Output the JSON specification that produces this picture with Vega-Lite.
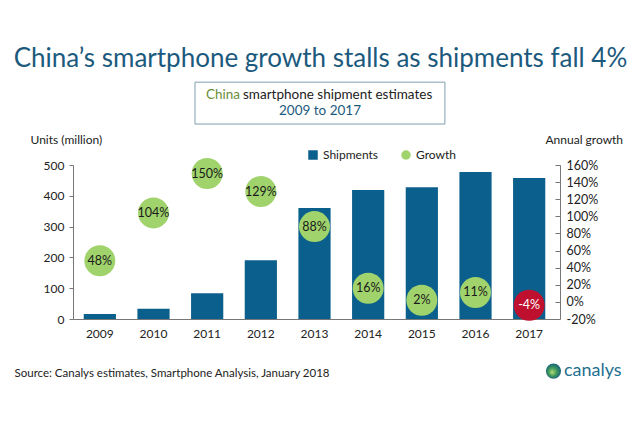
{
  "$schema": "https://vega.github.io/schema/vega-lite/v6.json",
  "width": 483,
  "height": 154,
  "autosize": "none",
  "padding": {"left": 73, "top": 165, "right": 84, "bottom": 108},
  "background": "white",
  "config": {"font": "Lato", "view": {"stroke": null}},
  "title": {"text": "China’s smartphone growth stalls as shipments fall 4%", "fontSize": 26, "font": "Lato", "fontWeight": "normal", "color": "#1c5a7d", "anchor": "middle", "dx": 6, "offset": 10},
  "data": {"values": [
    {"year": "2009", "units": 16, "growth": 48, "label": "48%"},
    {"year": "2010", "units": 33, "growth": 104, "label": "104%"},
    {"year": "2011", "units": 84, "growth": 150, "label": "150%"},
    {"year": "2012", "units": 191, "growth": 129, "label": "129%"},
    {"year": "2013", "units": 360, "growth": 88, "label": "88%"},
    {"year": "2014", "units": 419, "growth": 16, "label": "16%"},
    {"year": "2015", "units": 428, "growth": 2, "label": "2%"},
    {"year": "2016", "units": 477, "growth": 11, "label": "11%"},
    {"year": "2017", "units": 458, "growth": -4, "label": "-4%"}
  ]},
  "layer": [
    {
      "mark": {"type": "bar"},
      "encoding": {
        "x": {"field": "year", "type": "nominal",
          "scale": {"domain": ["2009","2010","2011","2012","2013","2014","2015","2016","2017"], "paddingInner": 0.4, "paddingOuter": 0.2},
          "axis": {"title": "Source: Canalys estimates, Smartphone Analysis, January 2018", "titleX": -59, "titleY": 54, "titleAlign": "left", "titleBaseline": "middle", "titleFontSize": 11.5, "titleFontWeight": "normal", "titleColor": "#222", "labelAngle": 0, "labelFontSize": 12, "labelColor": "#222", "labelPadding": 9, "ticks": false, "domainColor": "#777", "grid": false}},
        "y": {"field": "units", "type": "quantitative",
          "scale": {"domain": [0, 500], "nice": false},
          "axis": {"orient": "left", "title": "Units (million)", "titleAngle": 0, "titleAlign": "left", "titleBaseline": "middle", "titleX": -43, "titleY": -26, "titleFontSize": 12, "titleFontWeight": "normal", "titleColor": "#222", "values": [0,100,200,300,400,500], "labelOverlap": false, "tickSize": 4, "tickColor": "#777", "domainColor": "#777", "labelFontSize": 12, "labelColor": "#222", "labelPadding": 5, "grid": false}},
        "color": {"datum": "Shipments",
          "scale": {"domain": ["Shipments", "Growth"], "range": ["#0b5f8c", "#a0d36c"]},
          "legend": {"orient": "none", "legendX": 234, "legendY": -16, "direction": "horizontal", "title": null, "labelFontSize": 12, "labelColor": "#222", "symbolSize": 90, "columnPadding": 21,
            "encode": {"symbols": {"update": {"shape": {"signal": "datum.value === 'Shipments' ? 'square' : 'circle'"}}}}}}
      }
    },
    {
      "mark": {"type": "point", "filled": true, "size": 960, "opacity": 1},
      "encoding": {
        "x": {"field": "year", "type": "nominal"},
        "y": {"field": "growth", "type": "quantitative",
          "scale": {"domain": [-20, 160], "nice": false},
          "axis": {"orient": "right", "offset": 4, "title": "Annual growth", "titleAngle": 0, "titleAlign": "left", "titleBaseline": "middle", "titleX": -15, "titleY": -26, "titleFontSize": 12, "titleFontWeight": "normal", "titleColor": "#222", "values": [-20,0,20,40,60,80,100,120,140,160], "labelOverlap": false, "labelExpr": "datum.value + '%'", "tickSize": -5, "tickColor": "#777", "domainColor": "#777", "labelFontSize": 12.5, "labelColor": "#222", "labelPadding": 11, "grid": false}},
        "color": {"datum": "Growth", "condition": {"test": "datum.growth < 0", "value": "#c0102f"}}
      }
    },
    {
      "mark": {"type": "text", "fontSize": 12.5, "baseline": "middle", "align": "center"},
      "encoding": {
        "x": {"field": "year", "type": "nominal"},
        "y": {"field": "growth", "type": "quantitative", "scale": {"domain": [-20, 160], "nice": false}, "axis": null},
        "text": {"field": "label"},
        "color": {"condition": {"test": "datum.growth < 0", "value": "white"}, "value": "#1a1a1a"}
      }
    },
    {
      "data": {"values": [{"t": "box"}]},
      "mark": {"type": "rect", "fill": null, "stroke": "#7f9fae", "strokeWidth": 1},
      "encoding": {
        "x": {"datum": "2011", "bandPosition": 0.122, "type": "nominal"},
        "x2": {"datum": "2015", "bandPosition": 1.217},
        "y": {"datum": 769, "type": "quantitative", "scale": {"domain": [0, 500], "nice": false}, "axis": null},
        "y2": {"datum": 633}
      }
    },
    {
      "data": {"values": [{"t": "China"}]},
      "mark": {"type": "text", "align": "right", "baseline": "middle", "fontSize": 13.5, "color": "#6b8e3a"},
      "encoding": {
        "x": {"datum": "2011", "bandPosition": 1.52, "type": "nominal"},
        "y": {"datum": 727, "type": "quantitative", "scale": {"domain": [0, 500], "nice": false}, "axis": null},
        "text": {"field": "t"}
      }
    },
    {
      "data": {"values": [{"t": "smartphone shipment estimates"}]},
      "mark": {"type": "text", "align": "left", "baseline": "middle", "fontSize": 13.5, "color": "#222"},
      "encoding": {
        "x": {"datum": "2011", "bandPosition": 1.613, "type": "nominal"},
        "y": {"datum": 727, "type": "quantitative", "scale": {"domain": [0, 500], "nice": false}, "axis": null},
        "text": {"field": "t"}
      }
    },
    {
      "data": {"values": [{"t": "2009 to 2017"}]},
      "mark": {"type": "text", "align": "center", "baseline": "middle", "fontSize": 13.5, "color": "#1c5a7d"},
      "encoding": {
        "x": {"datum": "2013", "bandPosition": 0.671, "type": "nominal"},
        "y": {"datum": 675, "type": "quantitative", "scale": {"domain": [0, 500], "nice": false}, "axis": null},
        "text": {"field": "t"}
      }
    },
    {
      "data": {"values": [{"t": "canalys"}]},
      "mark": {"type": "text", "align": "left", "baseline": "middle", "fontSize": 18, "color": "#1f6f8f"},
      "encoding": {
        "x": {"datum": "2017", "bandPosition": 1.58, "type": "nominal"},
        "y": {"datum": -169, "type": "quantitative", "scale": {"domain": [0, 500], "nice": false}, "axis": null},
        "text": {"field": "t"}
      }
    },
    {
      "data": {"values": [{"t": "globe"}]},
      "mark": {"type": "point", "filled": true, "size": 230, "opacity": 1,
        "color": {"gradient": "radial", "x1": 0.4, "y1": 0.6, "x2": 0.5, "y2": 0.5, "r1": 0, "r2": 0.6, "stops": [{"offset": 0, "color": "#b7e07a"}, {"offset": 0.45, "color": "#3f9a5a"}, {"offset": 1, "color": "#0d4f86"}]}},
      "encoding": {
        "x": {"datum": "2017", "bandPosition": 1.255, "type": "nominal"},
        "y": {"datum": -169, "type": "quantitative", "scale": {"domain": [0, 500], "nice": false}, "axis": null}
      }
    }
  ],
  "resolve": {"scale": {"y": "independent"}}
}
